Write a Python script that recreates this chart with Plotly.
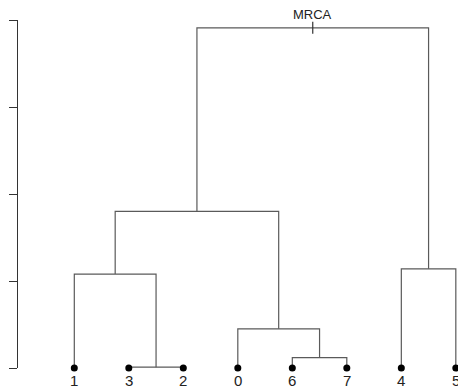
import plotly.graph_objects as go

# Leaves in display order
leaf_labels = ["1", "3", "2", "0", "6", "7", "4", "5"]

# Merges: (left child, right child); children are leaf labels or "m<i>" for earlier merges
merge_children = [
    ("3", "2"),
    ("6", "7"),
    ("0", "m1"),
    ("1", "m0"),
    ("4", "5"),
    ("m3", "m2"),
    ("m5", "m4"),
]
merge_heights = [0.01, 0.12, 0.45, 1.08, 1.14, 1.80, 3.91]

y_ticks = [0, 1, 2, 3, 4]

# Node coordinates
pos = {lab: (i, 0.0) for i, lab in enumerate(leaf_labels)}
seg_x, seg_y = [], []
for i, ((a, b), h) in enumerate(zip(merge_children, merge_heights)):
    xa, ya = pos[a]
    xb, yb = pos[b]
    seg_x += [xa, xa, xb, xb, None]
    seg_y += [ya, h, h, yb, None]
    pos[f"m{i}"] = ((xa + xb) / 2, h)

root_x, root_y = pos[f"m{len(merge_children) - 1}"]

W, H = 458, 386
m_l, m_r, m_t, m_b = 18, 0, 20, 18
x_range = [-1.033, 7.04]
y_range = [0, 4]
px_per_y = (H - m_t - m_b) / (y_range[1] - y_range[0])
tick_half = 6 / px_per_y

fig = go.Figure()
fig.add_trace(go.Scatter(
    x=seg_x, y=seg_y, mode="lines",
    line=dict(color="#5a5a5a", width=1.2),
    hoverinfo="skip", cliponaxis=False,
))
fig.add_trace(go.Scatter(
    x=[root_x, root_x], y=[root_y - tick_half, root_y + tick_half], mode="lines",
    line=dict(color="#333333", width=1.2),
    hoverinfo="skip", cliponaxis=False,
))
fig.add_trace(go.Scatter(
    x=list(range(len(leaf_labels))), y=[0] * len(leaf_labels), mode="markers",
    marker=dict(color="black", size=7),
    hoverinfo="skip", cliponaxis=False,
))

for i, lab in enumerate(leaf_labels):
    fig.add_annotation(
        x=i, y=0, text=lab, showarrow=False, yanchor="top", yshift=-2,
        font=dict(family="Liberation Sans", size=15, color="#222222"),
    )
fig.add_annotation(
    x=root_x, y=root_y, text="MRCA", showarrow=False, yanchor="bottom", yshift=4,
    font=dict(family="Liberation Sans", size=13, color="#222222"),
)

fig.update_layout(
    width=W, height=H,
    margin=dict(l=m_l, r=m_r, t=m_t, b=m_b),
    paper_bgcolor="white", plot_bgcolor="white",
    showlegend=False,
    xaxis=dict(range=x_range, visible=False),
    yaxis=dict(
        range=y_range, tickvals=y_ticks, showticklabels=False,
        ticks="outside", ticklen=8, tickcolor="#333333", tickwidth=1.2,
        showline=True, linecolor="#333333", linewidth=1.2,
        showgrid=False, zeroline=False,
    ),
)

fig.write_html("out.html")
